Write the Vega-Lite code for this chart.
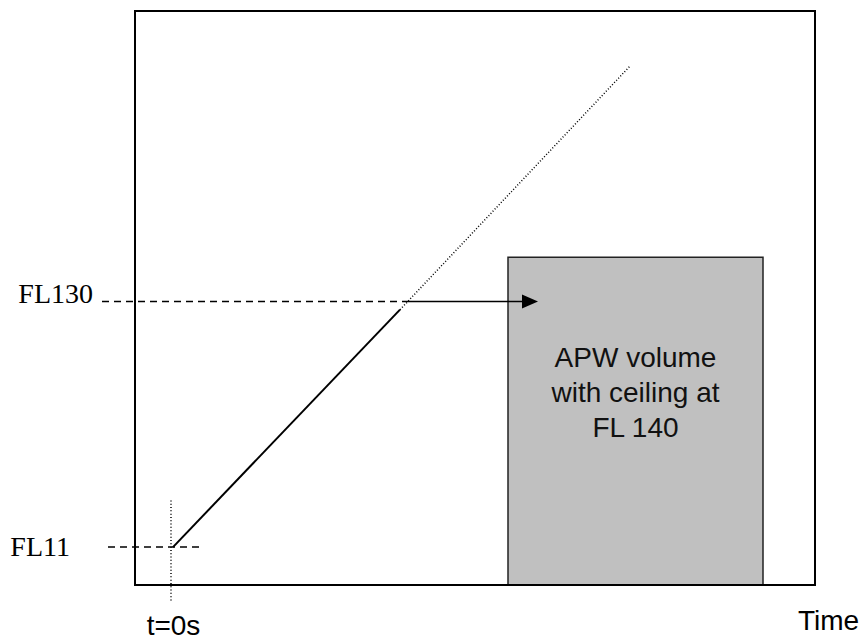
{
  "$schema": "https://vega.github.io/schema/vega-lite/v6.json",
  "width": 866,
  "height": 642,
  "padding": 0,
  "autosize": {"type": "fit", "contains": "padding"},
  "config": {"view": {"stroke": null}, "background": "white"},
  "datasets": {
    "frame": [{"t0": -36, "t1": 644, "f0": -7.4, "f1": 270.7}],
    "apw": [{"t0": 337, "t1": 592, "f0": -7.4, "f1": 151.4}],
    "climbSolid": [{"t": 2, "fl": 11}, {"t": 229, "fl": 126}],
    "climbDotted": [{"t": 229, "fl": 126}, {"t": 459, "fl": 244}],
    "dashed": [{"t0": -69, "t1": 237, "fl": 130}, {"t0": -63, "t1": 29, "fl": 11}],
    "arrow": [{"t0": 237, "t1": 354, "fl": 130}],
    "head": [{"t": 359, "fl": 130}],
    "tick": [{"t": 0, "f0": 33.6, "f1": -15.2}],
    "serif": [{"t": -78, "fl": 129.2, "label": "FL130"}, {"t": -101, "fl": 6.6, "label": "FL11"}],
    "sansC": [{"t": 2.5, "fl": -31.6, "label": "t=0s"}],
    "sansL": [{"t": 627, "fl": -29.2, "label": "Time"}],
    "boxText": [{"t": 464.5, "fl": 98.3, "label": "APW volume\nwith ceiling at\nFL 140"}]
  },
  "layer": [
    {
      "data": {"name": "apw"},
      "mark": {"type": "rect", "fill": "#c0c0c0", "stroke": "#222222", "strokeWidth": 1.5},
      "encoding": {
        "x": {"field": "t0", "type": "quantitative", "scale": {"domain": [-171, 695], "nice": false, "zero": false}, "axis": null},
        "x2": {"field": "t1"},
        "y": {"field": "f0", "type": "quantitative", "scale": {"domain": [-34, 276], "nice": false, "zero": false}, "axis": null},
        "y2": {"field": "f1"}
      }
    },
    {
      "data": {"name": "frame"},
      "mark": {"type": "rect", "fillOpacity": 0, "stroke": "black", "strokeWidth": 2},
      "encoding": {
        "x": {"field": "t0", "type": "quantitative"},
        "x2": {"field": "t1"},
        "y": {"field": "f0", "type": "quantitative"},
        "y2": {"field": "f1"}
      }
    },
    {
      "data": {"name": "climbSolid"},
      "mark": {"type": "line", "color": "black", "strokeWidth": 2},
      "encoding": {
        "x": {"field": "t", "type": "quantitative"},
        "y": {"field": "fl", "type": "quantitative"}
      }
    },
    {
      "data": {"name": "climbDotted"},
      "mark": {"type": "line", "color": "black", "strokeWidth": 1.5, "strokeDash": [1, 2]},
      "encoding": {
        "x": {"field": "t", "type": "quantitative"},
        "y": {"field": "fl", "type": "quantitative"}
      }
    },
    {
      "data": {"name": "dashed"},
      "mark": {"type": "rule", "color": "black", "strokeWidth": 1.5, "strokeDash": [7, 5]},
      "encoding": {
        "x": {"field": "t0", "type": "quantitative"},
        "x2": {"field": "t1"},
        "y": {"field": "fl", "type": "quantitative"}
      }
    },
    {
      "data": {"name": "arrow"},
      "mark": {"type": "rule", "color": "black", "strokeWidth": 1.5},
      "encoding": {
        "x": {"field": "t0", "type": "quantitative"},
        "x2": {"field": "t1"},
        "y": {"field": "fl", "type": "quantitative"}
      }
    },
    {
      "data": {"name": "head"},
      "mark": {"type": "point", "shape": "M-1,-0.875L1,0L-1,0.875Z", "filled": true, "color": "black", "opacity": 1, "size": 256, "strokeWidth": 0},
      "encoding": {
        "x": {"field": "t", "type": "quantitative"},
        "y": {"field": "fl", "type": "quantitative"}
      }
    },
    {
      "data": {"name": "tick"},
      "mark": {"type": "rule", "color": "black", "strokeWidth": 1.5, "strokeDash": [1, 2.3]},
      "encoding": {
        "x": {"field": "t", "type": "quantitative"},
        "y": {"field": "f0", "type": "quantitative"},
        "y2": {"field": "f1"}
      }
    },
    {
      "data": {"name": "serif"},
      "mark": {"type": "text", "font": "Liberation Serif", "fontSize": 28, "align": "right", "baseline": "alphabetic", "color": "black"},
      "encoding": {
        "x": {"field": "t", "type": "quantitative"},
        "y": {"field": "fl", "type": "quantitative"},
        "text": {"field": "label", "type": "nominal"}
      }
    },
    {
      "data": {"name": "sansC"},
      "mark": {"type": "text", "font": "Liberation Sans", "fontSize": 28, "align": "center", "baseline": "alphabetic", "color": "black"},
      "encoding": {
        "x": {"field": "t", "type": "quantitative"},
        "y": {"field": "fl", "type": "quantitative"},
        "text": {"field": "label", "type": "nominal"}
      }
    },
    {
      "data": {"name": "sansL"},
      "mark": {"type": "text", "font": "Liberation Sans", "fontSize": 28, "align": "left", "baseline": "alphabetic", "color": "black"},
      "encoding": {
        "x": {"field": "t", "type": "quantitative"},
        "y": {"field": "fl", "type": "quantitative"},
        "text": {"field": "label", "type": "nominal"}
      }
    },
    {
      "data": {"name": "boxText"},
      "mark": {"type": "text", "font": "Liberation Sans", "fontSize": 28, "align": "center", "baseline": "alphabetic", "lineBreak": "\n", "lineHeight": 35, "color": "#111111"},
      "encoding": {
        "x": {"field": "t", "type": "quantitative"},
        "y": {"field": "fl", "type": "quantitative"},
        "text": {"field": "label", "type": "nominal"}
      }
    }
  ]
}
